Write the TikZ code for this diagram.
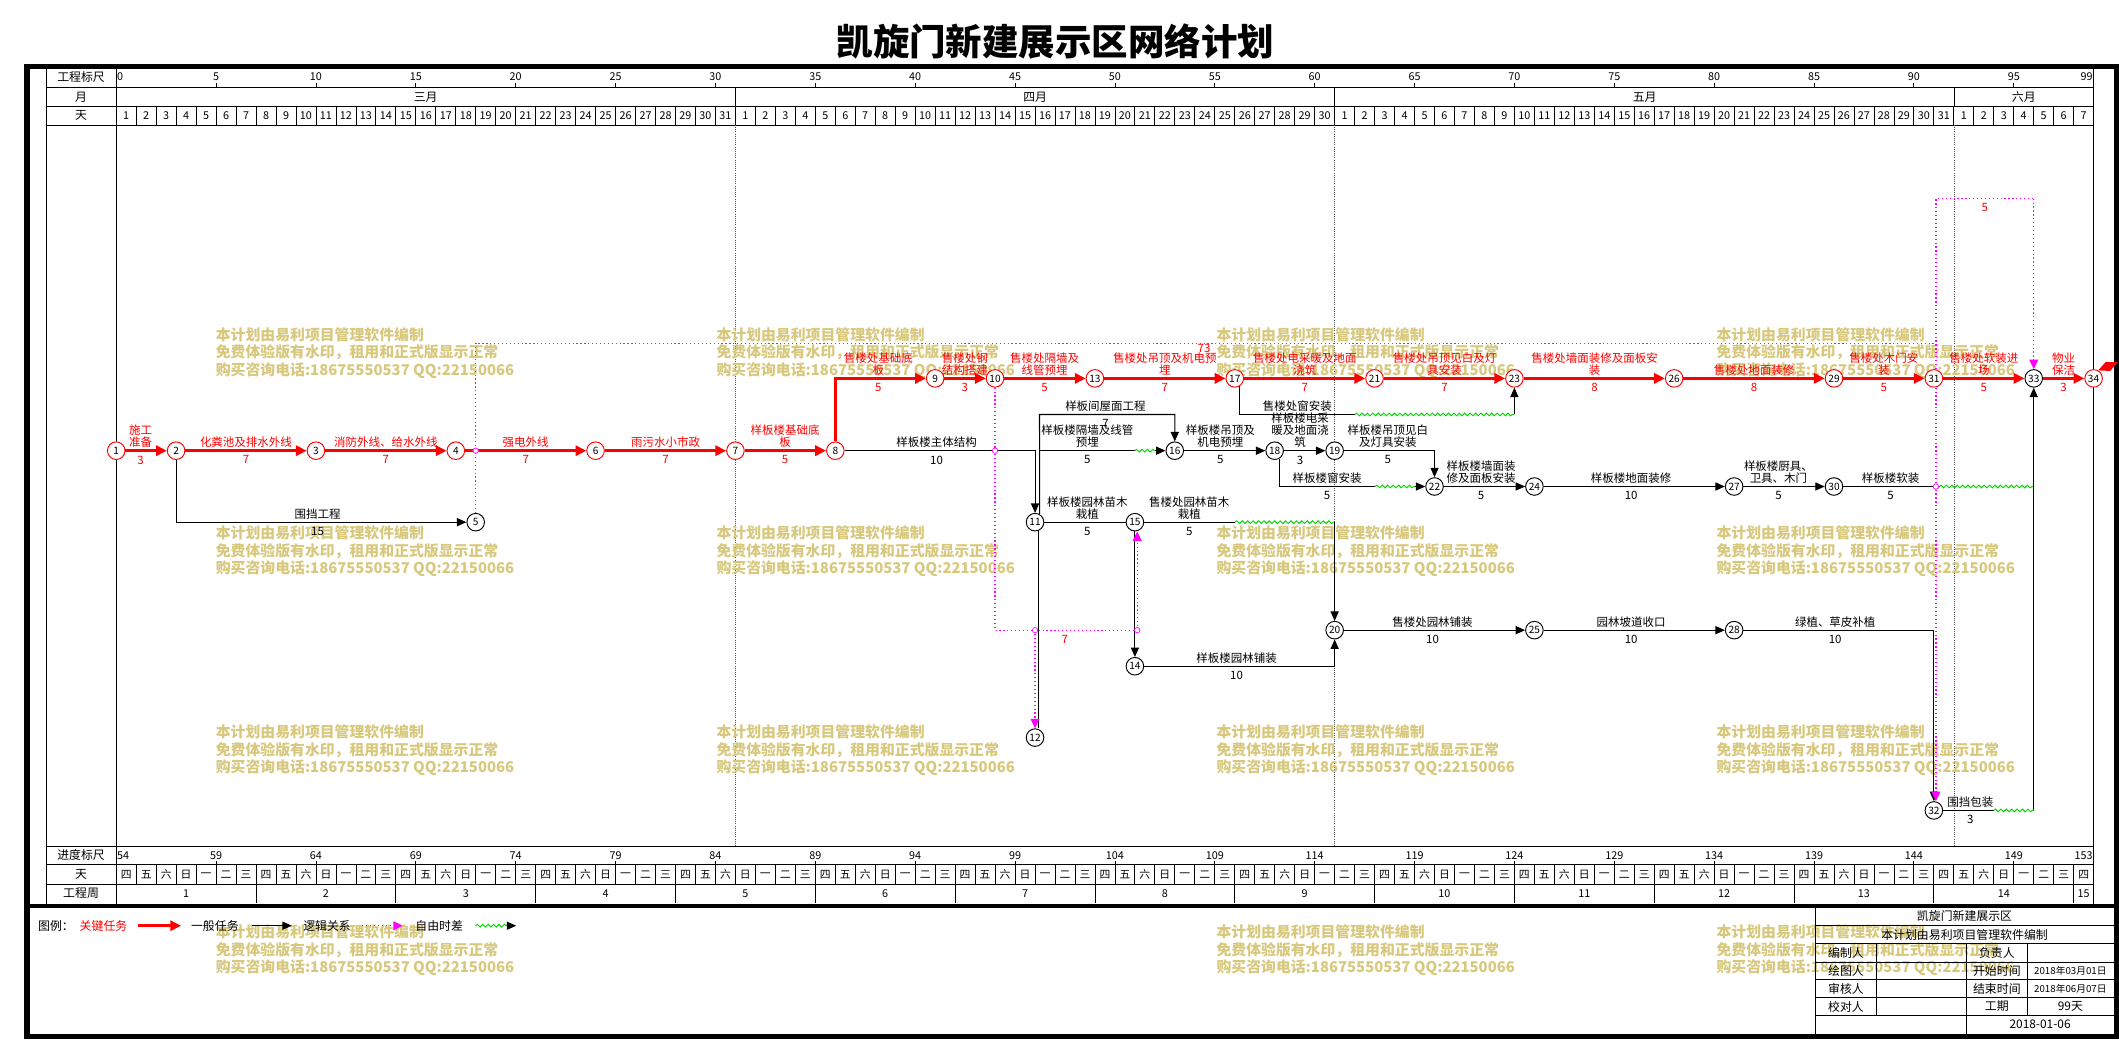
\documentclass[tikz,border=0pt]{standalone}
\usepackage{fontspec}
\setmainfont{Noto Sans CJK SC}
\usepackage{tikz}
\usetikzlibrary{arrows.meta, positioning, decorations.pathmorphing}
\usepackage{xcolor}
\definecolor{critred}{RGB}{255,0,0}
\definecolor{logicmag}{RGB}{255,0,255}
\definecolor{floatgrn}{RGB}{0,215,0}
\definecolor{wmcol}{RGB}{215,200,125}
\newcommand{\lblfont}{\fontsize{8.5}{9}\selectfont}

\begin{document}
\begin{tikzpicture}[
    x=1pt, y=-1pt,
    evt/.style={circle, draw, fill=white, line width=0.7pt, inner sep=0pt, minimum size=13pt, font=\fontsize{7.5}{8}\selectfont},
    critevt/.style={evt, draw=critred},
    crit/.style={critred, line width=2.2pt, -{Triangle[length=8pt,width=7.5pt]}},
    tsk/.style={black, line width=0.8pt, -{Triangle[length=7pt,width=6pt]}},
    plain/.style={black, line width=0.8pt},
    logic/.style={logicmag, dotted, line width=0.9pt},
    logicarr/.style={logic, -{Triangle[length=7pt,width=6.5pt]}},
    slack/.style={floatgrn, line width=0.7pt, decorate, decoration={snake, amplitude=1pt, segment length=4pt}},
    hop/.style={circle, draw=logicmag, fill=white, line width=0.5pt, inner sep=0pt, minimum size=4pt},
    crittext/.style={text=critred, font=\lblfont, align=center, inner sep=0.5pt, anchor=south},
    critdur/.style={text=critred, font=\lblfont, inner sep=0.5pt, anchor=north},
    tasktext/.style={font=\lblfont, align=center, inner sep=0.5pt, anchor=south},
    taskdur/.style={font=\lblfont, inner sep=0.5pt, anchor=north},
    grid/.style={black, line width=0.6pt},
    monthline/.style={black!70, densely dotted, line width=0.6pt},
    daynum/.style={font=\fontsize{8}{8}\selectfont, inner sep=0.5pt},
    headtext/.style={font=\fontsize{8.8}{9}\selectfont, inner sep=0pt},
    watermark/.style={text=wmcol, font=\fontsize{11}{13}\selectfont\bfseries, align=left, anchor=north west, inner sep=0pt}
]
    \useasboundingbox (0,0) rectangle (1568,769.6);

    % Title
    \node[font=\fontsize{27}{28}\selectfont\bfseries] (title) at (781,31) {凯旋门新建展示区网络计划};

    % Outer frame and separator above the legend
    \draw[line width=4pt] (20,49) rectangle (1566,767);
    \draw[line width=3pt] (20,670.5) -- (1566,670.5);

    % Scale table lines
    \draw[grid] (34,51) -- (34,669);
    \draw[grid] (86,51) -- (86,669);
    \draw[grid] (1549.2,51) -- (1549.2,669);
    \foreach \yy in {64.6,79,92.5,626,640,654.5}
        \draw[grid] (34,\yy) -- (1549.2,\yy);

    % Row titles
    \node[headtext] (hscale) at (60,57) {工程标尺};
    \node[headtext] (hmonth) at (60,71.8) {月};
    \node[headtext] (hday) at (60,85.7) {天};
    \node[headtext] (bscale) at (60,633) {进度标尺};
    \node[headtext] (bday) at (60,647.2) {天};
    \node[headtext] (bweek) at (60,661.2) {工程周};

    % Top scale 0-99
    \node[daynum, anchor=west] (ts0) at (86,57) {0};
    \foreach \k in {5,10,...,95} {
        \node[daynum] (ts\k) at ({86+\k*14.78},57) {\k};
        \draw[grid] ({86+\k*14.78},64.6) -- ++(0,-3);
    }
    \node[daynum, anchor=east] (ts99) at (1549.2,57) {99};

    % Months
    \foreach \mx in {544.2,987.6,1446.0}
        \draw[grid] (\mx,64.6) -- (\mx,79);
    \node[headtext] (mar) at (315,71.8) {三月};
    \node[headtext] (apr) at (766,71.8) {四月};
    \node[headtext] (may) at (1217,71.8) {五月};
    \node[headtext] (jun) at (1497.6,71.8) {六月};

    % Days of month
    \foreach \d in {1,...,98} {
        \draw[grid] ({86+\d*14.78},79) -- ({86+\d*14.78},92.5);
        \draw[grid] ({86+\d*14.78},640) -- ({86+\d*14.78},654.5);
    }
    \foreach \d in {1,...,31}
        \node[daynum] (dm\d) at ({86+(\d-0.5)*14.78},85.75) {\d};
    \foreach \d in {1,...,30}
        \node[daynum] (da\d) at ({86+(\d+30.5)*14.78},85.75) {\d};
    \foreach \d in {1,...,31}
        \node[daynum] (dy\d) at ({86+(\d+60.5)*14.78},85.75) {\d};
    \foreach \d in {1,...,7}
        \node[daynum] (dj\d) at ({86+(\d+91.5)*14.78},85.75) {\d};

    % Month boundaries through the network
    \foreach \mx in {544.2,987.6,1446.0}
        \draw[monthline] (\mx,92.5) -- (\mx,626);

    % Bottom scale 54-153
    \node[daynum, anchor=west] (bs0) at (86,633) {54};
    \foreach \k in {5,10,...,95} {
        \pgfmathtruncatemacro{\sv}{54+\k}
        \node[daynum] (bs\k) at ({86+\k*14.78},633) {\sv};
        \draw[grid] ({86+\k*14.78},640) -- ++(0,-3);
    }
    \node[daynum, anchor=east] (bs99) at (1549.2,633) {153};

    % Weekdays
    \foreach \w [count=\k from 0] in {四,五,六,日,一,二,三} {
        \foreach \j in {0,...,14} {
            \pgfmathtruncatemacro{\dd}{7*\j+\k}
            \ifnum\dd<99
                \node[daynum] (wd\dd) at ({86+(\dd+0.5)*14.78},647.25) {\w};
            \fi
        }
    }

    % Project weeks
    \foreach \k in {1,...,14} {
        \draw[grid] ({86+7*\k*14.78},654.5) -- ++(0,13.5);
        \node[daynum] (wk\k) at ({86+(7*\k-3.5)*14.78},661.25) {\k};
    }
    \node[daynum] (wk15) at (1541.8,661.25) {15};

    % Watermarks
    \foreach \wx/\wy [count=\i] in {159.5/242, 530/242, 900/242, 1270/242,
                                    159.5/389, 530/389, 900/389, 1270/389,
                                    159.5/536, 530/536, 900/536, 1270/536,
                                    159.5/684, 900/684, 1270/684}
        \node[watermark] (wm\i) at (\wx,\wy) {本计划由易利项目管理软件编制\\免费体验版有水印，租用和正式版显示正常\\购买咨询电话:18675550537 QQ:22150066};

    % Events
    \node[critevt] (n1) at (86,333.5) {1};
    \node[critevt] (n2) at (130.3,333.5) {2};
    \node[critevt] (n3) at (233.8,333.5) {3};
    \node[critevt] (n4) at (337.3,333.5) {4};
    \node[evt] (n5) at (352,386.4) {5};
    \node[critevt] (n6) at (440.7,333.5) {6};
    \node[critevt] (n7) at (544.2,333.5) {7};
    \node[critevt] (n8) at (618.1,333.5) {8};
    \node[critevt] (n9) at (692,280) {9};
    \node[critevt] (n10) at (736.3,280) {10};
    \node[evt] (n11) at (765.9,386.4) {11};
    \node[evt] (n12) at (765.9,545.8) {12};
    \node[critevt] (n13) at (810.2,280) {13};
    \node[evt] (n14) at (839.8,493) {14};
    \node[evt] (n15) at (839.8,386.4) {15};
    \node[evt] (n16) at (869.3,333.5) {16};
    \node[critevt] (n17) at (913.7,280) {17};
    \node[evt] (n18) at (943.2,333.5) {18};
    \node[evt] (n19) at (987.6,333.5) {19};
    \node[evt] (n20) at (987.6,466.3) {20};
    \node[critevt] (n21) at (1017.1,280) {21};
    \node[evt] (n22) at (1061.5,360) {22};
    \node[critevt] (n23) at (1120.6,280) {23};
    \node[evt] (n24) at (1135.4,360) {24};
    \node[evt] (n25) at (1135.4,466.3) {25};
    \node[critevt] (n26) at (1238.8,280) {26};
    \node[evt] (n27) at (1283.2,360) {27};
    \node[evt] (n28) at (1283.2,466.3) {28};
    \node[critevt] (n29) at (1357.1,280) {29};
    \node[evt] (n30) at (1357.1,360) {30};
    \node[critevt] (n31) at (1431,280) {31};
    \node[evt] (n32) at (1431,599.7) {32};
    \node[evt] (n33) at (1504.9,280) {33};
    \node[critevt] (n34) at (1549.2,280) {34};
    \fill[critred] (n34.60) -- (1558,268) -- (1567,268) -- (1561.5,274.5) -- cycle;

    % Critical path
    \draw[crit] (n1) -- (n2);
    \draw[crit] (n2) -- (n3);
    \draw[crit] (n3) -- (n4);
    \draw[crit] (n4) -- (n6);
    \draw[crit] (n6) -- (n7);
    \draw[crit] (n7) -- (n8);
    \draw[crit] (n8) |- (n9);
    \draw[crit] (n9) -- (n10);
    \draw[crit] (n10) -- (n13);
    \draw[crit] (n13) -- (n17);
    \draw[crit] (n17) -- (n21);
    \draw[crit] (n21) -- (n23);
    \draw[crit] (n23) -- (n26);
    \draw[crit] (n26) -- (n29);
    \draw[crit] (n29) -- (n31);
    \draw[crit] (n31) -- (n33);
    \draw[crit] (n33) -- (n34);

    % Other tasks
    \draw[tsk] (n2) |- (n5);
    \draw[tsk] (n8) -| (n11);
    \coordinate (s16a) at (839.8,333.5);
    \coordinate (s16b) at (855,333.5);
    \draw[plain] (n11.60) |- (s16a);
    \draw[slack] (s16a) -- (s16b);
    \draw[tsk] (s16b) -- (n16);
    \coordinate (r11) at (769.2,306.7);
    \draw[tsk] (n11.60) -- (r11) -| (n16);
    \draw[plain] (n11) -- (n15);
    \coordinate (s20a) at (914,386.4);
    \coordinate (s20b) at (987.6,386.4);
    \draw[plain] (n15) -- (s20a);
    \draw[slack] (s20a) -- (s20b);
    \draw[tsk] (s20b) -- (n20);
    \draw[tsk] (n15) -- (n14);
    \draw[tsk] (n14) -| (n20);
    \draw[plain] (n11.-70) -- (n11.-70 |- n12.north);
    \draw[tsk] (n16) -- (n18);
    \draw[tsk] (n18) -- (n19);
    \coordinate (s22a) at (1017.6,360);
    \coordinate (s22b) at (1047,360);
    \draw[plain] (n18.-60) |- (s22a);
    \draw[slack] (s22a) -- (s22b);
    \draw[tsk] (s22b) -- (n22);
    \draw[tsk] (n19) -| (n22);
    \coordinate (s23a) at (1002.6,306.7);
    \coordinate (s23b) at (1120.6,306.7);
    \draw[plain] (n17.-60) |- (s23a);
    \draw[slack] (s23a) -- (s23b);
    \draw[tsk] (s23b) -- (n23);
    \draw[tsk] (n22) -- (n24);
    \draw[tsk] (n24) -- (n27);
    \draw[tsk] (n27) -- (n30);
    \coordinate (s33a) at (1431,360);
    \coordinate (s33b) at (1504.9,360);
    \draw[plain] (n30) -- (s33a);
    \draw[slack] (s33a) -- (s33b);
    \draw[tsk] (n20) -- (n25);
    \draw[tsk] (n25) -- (n28);
    \draw[tsk] (n28) -| (n32);
    \coordinate (s33c) at (1475.3,599.7);
    \coordinate (s33d) at (1504.9,599.7);
    \draw[plain] (n32) -- (s33c);
    \draw[slack] (s33c) -- (s33d);
    \draw[tsk] (s33d) -- (n33);

    % Logic links
    \coordinate (m2) at (1432.5,254);
    \coordinate (m3) at (1432.5,147);
    \coordinate (m4) at (1504.9,147);
    \draw[logic] (n5) |- (m2);
    \draw[logic] (m3 |- n31.north) -- (m3) -- (m4);
    \draw[logicarr] (m4) -- (n33);
    \draw[logicarr] (m3 |- n31.south) -- (m3 |- n32.north);
    \coordinate (m5) at (736.3,466.3);
    \coordinate (m6) at (841.5,466.3);
    \coordinate (m7) at (765.9,466.3);
    \draw[logic] (n10) -- (m5) -- (m6);
    \draw[logicarr] (m6) -- (m6 |- n15.south);
    \draw[logicarr] (m7) -- (n12);
    \node[hop] (hp1) at (352,333.5) {};
    \node[hop] (hp2) at (736.3,333.5) {};
    \node[hop] (hp3) at (m7) {};
    \node[hop] (hp4) at (m6) {};
    \node[hop] (hp5) at (1432.5,360) {};
    \node[critdur] (lag1) at (788,469.3) {7};
    \node[critdur] (lag2) at (1468.7,150) {5};

    % Critical labels
    \node[crittext] (l1) at (104,332) {施工\\准备};
    \node[critdur] (u1) at (104,336.5) {3};
    \node[crittext] (l2) at (182,332) {化粪池及排水外线};
    \node[critdur] (u2) at (182,336.5) {7};
    \node[crittext] (l3) at (285.5,332) {消防外线、给水外线};
    \node[critdur] (u3) at (285.5,336.5) {7};
    \node[crittext] (l4) at (389,332) {强电外线};
    \node[critdur] (u4) at (389,336.5) {7};
    \node[crittext] (l5) at (492.5,332) {雨污水小市政};
    \node[critdur] (u5) at (492.5,336.5) {7};
    \node[crittext] (l6) at (581,332) {样板楼基础底\\板};
    \node[critdur] (u6) at (581,336.5) {5};
    \node[crittext] (l7) at (650,278.5) {售楼处基础底\\板};
    \node[critdur] (u7) at (650,283) {5};
    \node[crittext] (l8) at (714,278.5) {售楼处钢\\结构搭建};
    \node[critdur] (u8) at (714,283) {3};
    \node[crittext] (l9) at (773,278.5) {售楼处隔墙及\\线管预埋};
    \node[critdur] (u9) at (773,283) {5};
    \node[crittext] (l10) at (862,278.5) {售楼处吊顶及机电预\\埋};
    \node[critdur] (u10) at (862,283) {7};
    \node[critdur] (u73) at (891,254) {73};
    \node[crittext] (l11) at (965.5,278.5) {售楼处电采暖及地面\\浇筑};
    \node[critdur] (u11) at (965.5,283) {7};
    \node[crittext] (l12) at (1069,278.5) {售楼处吊顶见白及灯\\具安装};
    \node[critdur] (u12) at (1069,283) {7};
    \node[crittext] (l13) at (1180,278.5) {售楼处墙面装修及面板安\\装};
    \node[critdur] (u13) at (1180,283) {8};
    \node[crittext] (l14) at (1298,278.5) {售楼处地面装修};
    \node[critdur] (u14) at (1298,283) {8};
    \node[crittext] (l15) at (1394,278.5) {售楼处木门安\\装};
    \node[critdur] (u15) at (1394,283) {5};
    \node[crittext] (l16) at (1468,278.5) {售楼处软装进\\场};
    \node[critdur] (u16) at (1468,283) {5};
    \node[crittext] (l17) at (1527,278.5) {物业\\保洁};
    \node[critdur] (u17) at (1527,283) {3};

    % Task labels
    \node[tasktext] (k1) at (235,384.9) {围挡工程};
    \node[taskdur] (v1) at (235,389.4) {15};
    \node[tasktext] (k2) at (693,332) {样板楼主体结构};
    \node[taskdur] (v2) at (693,336.5) {10};
    \node[tasktext] (k3) at (804.6,332) {样板楼隔墙及线管\\预埋};
    \node[taskdur] (v3) at (804.6,336.5) {5};
    \node[tasktext] (k4) at (818,305.2) {样板间屋面工程};
    \node[taskdur] (v4) at (818,309.7) {7};
    \node[tasktext] (k5) at (903,332) {样板楼吊顶及\\机电预埋};
    \node[taskdur] (v5) at (903,336.5) {5};
    \node[tasktext] (k6) at (962,332) {样板楼电采\\暖及地面浇\\筑};
    \node[taskdur] (v6) at (962,336.5) {3};
    \node[tasktext] (k7) at (960,305.2) {售楼处窗安装};
    \node[tasktext] (k8) at (1027,332) {样板楼吊顶见白\\及灯具安装};
    \node[taskdur] (v8) at (1027,336.5) {5};
    \node[tasktext] (k9) at (982,358.5) {样板楼窗安装};
    \node[taskdur] (v9) at (982,363) {5};
    \node[tasktext] (k10) at (1096,358.5) {样板楼墙面装\\修及面板安装};
    \node[taskdur] (v10) at (1096,363) {5};
    \node[tasktext] (k11) at (1207,358.5) {样板楼地面装修};
    \node[taskdur] (v11) at (1207,363) {10};
    \node[tasktext] (k12) at (1316,358.5) {样板楼厨具、\\卫具、木门};
    \node[taskdur] (v12) at (1316,363) {5};
    \node[tasktext] (k13) at (1399,358.5) {样板楼软装};
    \node[taskdur] (v13) at (1399,363) {5};
    \node[tasktext] (k14) at (804.6,384.9) {样板楼园林苗木\\栽植};
    \node[taskdur] (v14) at (804.6,389.4) {5};
    \node[tasktext] (k15) at (880,384.9) {售楼处园林苗木\\栽植};
    \node[taskdur] (v15) at (880,389.4) {5};
    \node[tasktext] (k16) at (915,491.5) {样板楼园林铺装};
    \node[taskdur] (v16) at (915,496) {10};
    \node[tasktext] (k17) at (1060,464.8) {售楼处园林铺装};
    \node[taskdur] (v17) at (1060,469.3) {10};
    \node[tasktext] (k18) at (1207,464.8) {园林坡道收口};
    \node[taskdur] (v18) at (1207,469.3) {10};
    \node[tasktext] (k19) at (1358,464.8) {绿植、草皮补植};
    \node[taskdur] (v19) at (1358,469.3) {10};
    \node[tasktext] (k20) at (1458,598.2) {围挡包装};
    \node[taskdur] (v20) at (1458,602.7) {3};

    % Legend
    \node[headtext, anchor=west] (lgd) at (28,685) {图例：};
    \node[headtext, text=critred] (lgcrit) at (76.6,685) {关键任务};
    \coordinate (lc1) at (102,685);
    \coordinate (lc2) at (134,685);
    \draw[crit] (lc1) -- (lc2);
    \node[headtext] (lgtask) at (159,685) {一般任务};
    \coordinate (lt1) at (186.6,685);
    \coordinate (lt2) at (216,685);
    \draw[tsk] (lt1) -- (lt2);
    \node[headtext] (lglogic) at (242,685) {逻辑关系};
    \coordinate (ll1) at (268,685);
    \coordinate (ll2) at (298,685);
    \draw[logicarr] (ll1) -- (ll2);
    \node[headtext] (lgslack) at (325,685) {自由时差};
    \coordinate (ls1) at (352,685);
    \coordinate (ls2) at (375,685);
    \coordinate (ls3) at (382,685);
    \draw[slack] (ls1) -- (ls2);
    \draw[tsk] (ls2) -- (ls3);

    % Title block
    \draw[grid] (1343.5,671) -- (1343.5,767);
    \foreach \yy in {684.7,698.2,711.8,725,738.3,751.3}
        \draw[grid] (1343.5,\yy) -- (1564,\yy);
    \draw[grid] (1388.6,698.2) -- (1388.6,751.3);
    \draw[grid] (1455.2,698.2) -- (1455.2,767);
    \draw[grid] (1500,698.2) -- (1500,751.3);
    \node[headtext] (tb1) at (1453.7,677.9) {凯旋门新建展示区};
    \node[headtext] (tb2) at (1453.7,691.5) {本计划由易利项目管理软件编制};
    \node[headtext] (tb3) at (1366,705) {编制人};
    \node[headtext] (tb4) at (1477.6,705) {负责人};
    \node[headtext] (tb5) at (1366,718.4) {绘图人};
    \node[headtext] (tb6) at (1477.6,718.4) {开始时间};
    \node[headtext, font=\fontsize{7.2}{8}\selectfont] (tb7) at (1532,718.4) {2018年03月01日};
    \node[headtext] (tb8) at (1366,731.7) {审核人};
    \node[headtext] (tb9) at (1477.6,731.7) {结束时间};
    \node[headtext, font=\fontsize{7.2}{8}\selectfont] (tb10) at (1532,731.7) {2018年06月07日};
    \node[headtext] (tb11) at (1366,744.8) {校对人};
    \node[headtext] (tb12) at (1477.6,744.8) {工期};
    \node[headtext] (tb13) at (1532,744.8) {99天};
    \node[headtext] (tb14) at (1509.6,758) {2018-01-06};

\end{tikzpicture}
\end{document}
